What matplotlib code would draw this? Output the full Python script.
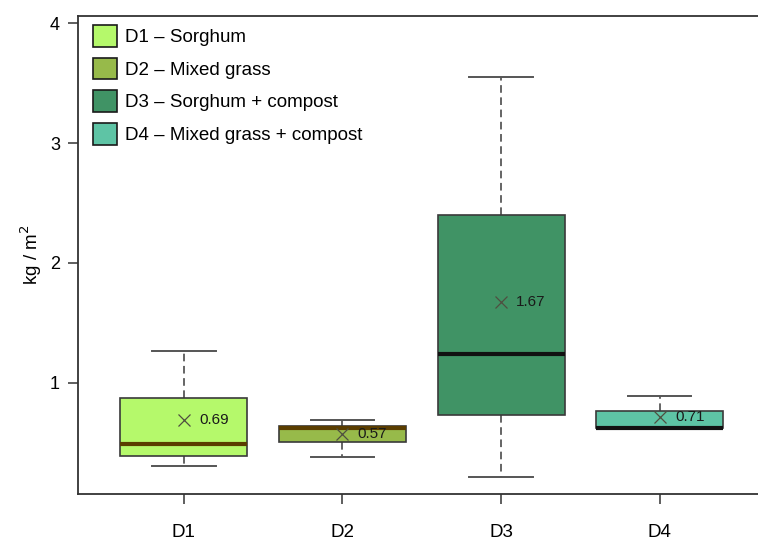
import matplotlib.pyplot as plt
from matplotlib.patches import Patch

plt.rcParams['font.family'] = ['Liberation Sans', 'DejaVu Sans']

# treatments and their box statistics (kg / m2)
labels = ['D1', 'D2', 'D3', 'D4']
legend_names = ['D1 – Sorghum', 'D2 – Mixed grass', 'D3 – Sorghum + compost',
                'D4 – Mixed grass + compost']
whisker_low = [0.30, 0.38, 0.21, 0.61]
q1 = [0.39, 0.50, 0.73, 0.62]
medians = [0.49, 0.62, 1.24, 0.62]
q3 = [0.87, 0.64, 2.40, 0.76]
whisker_high = [1.26, 0.69, 3.55, 0.89]
means = [0.69, 0.57, 1.67, 0.71]

fill_colors = ['#b5f96b', '#97ba4a', '#409365', '#5ec4a5']
median_colors = ['#5a3d00', '#5a3d00', '#111111', '#111111']

fig = plt.figure(figsize=(7.58, 5.41), dpi=100)
ax = fig.add_axes([0.103, 0.087, 0.897, 0.883])

stats = []
for i, name in enumerate(labels):
    stats.append({'label': name, 'whislo': whisker_low[i], 'q1': q1[i],
                  'med': medians[i], 'q3': q3[i], 'whishi': whisker_high[i],
                  'mean': means[i], 'fliers': []})

positions = [1, 2, 3, 4]
bp = ax.bxp(stats, positions=positions, widths=0.8, patch_artist=True,
            showmeans=False, showfliers=False,
            boxprops=dict(edgecolor='#3a3a3a', linewidth=1.2),
            whiskerprops=dict(color='#3a3a3a', linestyle=(0, (5, 3)), linewidth=1.1),
            capprops=dict(color='#555555', linewidth=1.4),
            capwidths=0.4)

for i, box in enumerate(bp['boxes']):
    box.set_facecolor(fill_colors[i])
for i, med in enumerate(bp['medians']):
    med.set_color(median_colors[i])
    med.set_linewidth(3)

# mean markers with value labels
for i, m in enumerate(means):
    ax.plot(positions[i], m, marker='x', color='#4f4f40', markersize=8,
            markeredgewidth=0.9, linestyle='none', zorder=5)
    ax.annotate(f'{m:.2f}', (positions[i], m), xytext=(11, 0),
                textcoords='offset points', va='center', ha='left',
                fontsize=11, color='#1a1a1a', zorder=5)

ax.set_xlim(0.333, 4.62)
ax.set_ylim(0.07, 4.06)
ax.set_yticks([1, 2, 3, 4])
ax.set_xticks(positions)
ax.set_xticklabels(labels)
ax.tick_params(axis='x', labelsize=13.5, length=7, width=1.1, color='#333333', pad=15)
ax.tick_params(axis='y', labelsize=13, length=7, width=1.1, color='#333333', pad=6)
for side in ['left', 'bottom', 'top']:
    ax.spines[side].set_color('#333333')
    ax.spines[side].set_linewidth(1.3)
ax.spines['right'].set_visible(False)
ax.set_ylabel('kg / m$^2$', fontsize=13.5, labelpad=4)

handles = [Patch(facecolor=c, edgecolor='#1a1a1a', linewidth=1.2) for c in fill_colors]
ax.legend(handles, legend_names, loc='upper left', bbox_to_anchor=(0.022, 0.981),
          frameon=False, fontsize=13.5, borderpad=0, borderaxespad=0,
          handlelength=1.28, handleheight=1.4, handletextpad=0.45, labelspacing=0.58)

fig.savefig('out.png', dpi=100)
